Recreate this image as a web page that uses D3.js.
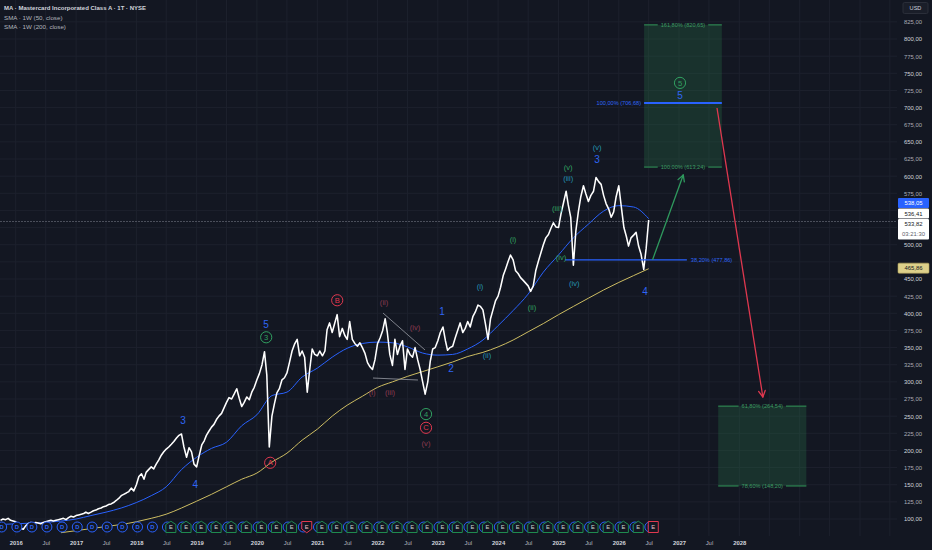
<!DOCTYPE html>
<html><head><meta charset="utf-8">
<script src="https://cdn.jsdelivr.net/npm/d3@7/dist/d3.min.js"></script>
<style>
html,body{margin:0;padding:0;background:#131722;overflow:hidden}
svg{display:block}
text{font-family:"Liberation Sans",Arial,sans-serif}
</style></head><body>
<svg id="chart" width="932" height="550"></svg>
<script>
// ================= DATA =================
const title = "MA · Mastercard Incorporated Class A · 1T · NYSE";
const legendLines = ["SMA · 1W (50, close)", "SMA · 1W (200, close)"];

// Semi-monthly closes (1st and 16th of each month), starting Oct 2015
const closesStart = [2015, 9];
const closes = [
  98,100,99,101,98,97,
  96,91, 86,85, 90,93, 95,94, 95,94, 93,95, 96,97, 98,97, 98,99, 100,101, 99,102, 104,103,
  105,106, 107,108, 110,108, 110,112, 113,115, 116,118, 119,121, 122,124, 127,130, 134,136, 138,140, 145,141,
  150,162, 166,158, 168,172, 176,173, 180,186, 193,198, 202,205, 209,213, 218,222, 224,205, 190,204, 198,180,
  176,192, 208,214, 222,228, 234,238, 245,250, 254,262, 270,277, 275,282, 290,276, 264,270, 278,274, 285,292,
  303,312, 325,344, 310,205, 250,268, 284,290, 303,306, 313,328, 345,355, 362,338, 345,336, 285,318, 348,340,
  338,345, 338,345, 376,386, 372,385, 398,366, 378,368, 362,388, 362,356, 352,357, 350,342, 328,322, 318,332,
  356,364, 375,392, 372,340, 324,362, 340,352, 360,318, 348,340, 336,350, 332,318, 300,282, 300,330, 348,350,
  360,372, 380,360, 346,350, 352,364, 375,386, 372,378, 388,380, 395,402, 412,410, 405,385, 362,392, 405,418,
  425,438, 455,465, 475,485, 478,462, 458,452, 448,444, 440,432, 440,462, 476,488, 500,510, 515,524, 532,526,
  525,545, 562,578, 558,540, 470,520, 548,570, 586,574, 563,572, 578,598, 592,588, 572,560, 552,540, 548,570,
  586,556, 525,512, 498,510, 514,518, 498,486, 464,495, 536
];

// Quarterly SMA readings (first day of Jan/Apr/Jul/Oct)
const sma50Start = [2015, 9];
const sma50 = [92, 93,94,95,97, 100,105,110,116, 124,134,147,172, 190,203,212,236, 252,280,285,307,
  320,336,349,356, 358,357,351,342, 339,340,348,361, 382,404,428,460, 485,510,530,549, 557,555,538];
const sma200Start = [2016, 9];
const sma200 = [80, 83,86,89,92, 96,101,107,116, 126,136,147,158, 167,183,196,215, 231,250,266,279,
  292,300,308,315, 322,329,337,343, 351,361,373,385, 398,410,422,434, 445,455,465];

const priceTicks = d3.range(100, 826, 25);
const yearTicks = d3.range(2016, 2029);
const julTicks = d3.range(2016, 2028);

// Corporate events
const dividendStart = [2015, 9, 8], dividendCount = 44;
const earningsStart = [2018, 6, 29];
const earningsResult = "bbbbbbbbbmbbbbbbbbbbbbbbbbbbbbbbu"; // b = beat, m = miss, u = upcoming

// Elliott wave labels: [decimal year, price, text]
const blueWaves = [[2018.774,243,"3"],[2018.976,150,"4"],[2020.151,383,"5"],[2023.068,403,"1"],[2023.218,319,"2"],
  [2025.640,625,"3"],[2026.436,432,"4"],[2027.016,718,"5"]];
const tealWaves = [[2023.70,440,"(i)"],[2023.816,338,"(ii)"],[2025.161,597,"(iii)"],[2025.261,443,"(iv)"],[2025.642,642,"(v)"]];
const greenWaves = [[2024.247,508,"(i)"],[2024.562,409,"(ii)"],[2024.977,553,"(iii)"],[2025.043,481,"(iv)"],[2025.161,613,"(v)"]];
const maroonWaves = [[2022.108,416,"(ii)"],[2022.622,380,"(iv)"],[2021.909,285,"(i)"],[2022.207,284,"(iii)"],[2022.804,211,"(v)"]];
const greenCircled = [[2020.154,365,"3"],[2022.804,253,"4"],[2027.016,736,"5"]];
const redCircled = [[2020.22,182,"A"],[2021.33,419,"B"],[2022.804,233,"C"]];

const triangleLines = [[[2022.09,400.4],[2022.787,346.5]],[[2021.924,305.6],[2022.67,302.7]]];
const fib382 = {t0:2025.11, t1:2027.13, v:477.86, label:"38,20% (477,86)"};
const fibUpper = {t0:2026.42, t1:2027.71, top:820.65, mid:706.68, bottom:613.24,
  labels:["161,80% (820,65)","100,00% (706,68)","100,00% (613,24)"]};
const fibLower = {t0:2027.65, t1:2029.11, top:264.54, bottom:148.20, labels:["61,80% (264,54)","78,60% (148,20)"]};
const arrowUp = [[2026.56,477.9],[2027.07,601.7]];
const arrowDown = [[2027.63,699.4],[2028.39,277.9]];

const lastPrice = 533.82, countdown = "03:21:30";
const stackedTags = [{v:538.05, kind:"blue"},{v:536.41, kind:"white"}];
const sma200Tag = 465.86;

// ================= CHART =================
const W = 932, H = 550, plotRight = 897, plotBottom = 536;
const C = {bg:"#131722", grid:"#1d212d", text:"#b2b5be", blue:"#2f66f5", teal:"#2592b0",
  green:"#31a061", red:"#e0384f", maroon:"#8c3a50", yellow:"#cdbd62", fib:"#2c7e4e"};

const svg = d3.select("#chart");
svg.append("rect").attr("width",W).attr("height",H).attr("fill",C.bg);

const x = d3.scaleTime().domain([new Date(2016,0,1), new Date(2028,0,1)]).range([15.7, 739.3]);
const y = d3.scaleLinear().domain([100, 825]).range([519, 21.87]);
function dy(t){ const yr=Math.floor(t), s=new Date(yr,0,1), e=new Date(yr+1,0,1); return new Date(+s+(t-yr)*(e-s)); }
const fmt = v => d3.format(".2f")(v).replace(".", ",");

const priceData = closes.map((v,i)=>({date:new Date(closesStart[0], closesStart[1]+Math.floor(i/2), i%2?16:1), v}));
const sma50Data = sma50.map((v,k)=>({date:new Date(sma50Start[0], sma50Start[1]+3*k, 1), v}));
const sma200Data = sma200.map((v,k)=>({date:new Date(sma200Start[0], sma200Start[1]+3*k, 1), v}));

svg.append("defs").append("clipPath").attr("id","plot").append("rect")
  .attr("x",0).attr("y",0).attr("width",plotRight).attr("height",plotBottom);

// grid
const grid = svg.append("g").attr("clip-path","url(#plot)");
grid.selectAll(".hg").data(priceTicks).join("line")
  .attr("x1",0).attr("x2",plotRight).attr("y1",d=>y(d)).attr("y2",d=>y(d))
  .attr("stroke",C.grid).attr("stroke-width",1);
const gridTimes = [];
for (let yr=2015; yr<=2030; yr++){ gridTimes.push(new Date(yr,0,1)); gridTimes.push(new Date(yr,6,1)); }
grid.selectAll(".vg").data(gridTimes).join("line")
  .attr("x1",d=>x(d)).attr("x2",d=>x(d)).attr("y1",0).attr("y2",plotBottom)
  .attr("stroke",C.grid).attr("stroke-width",1);

// tag layout (computed first so covered axis labels can be skipped)
const tagX = 898, tagW = 31;
const priceTop = y(lastPrice) - 2.5;
const tagBoxes = [[priceTop, priceTop+20.5]];
let tagTop = priceTop;
const stackedPos = stackedTags.slice().reverse().map(t=>{ tagTop -= 10.5; tagBoxes.push([tagTop, tagTop+10]); return {t, top:tagTop}; });
tagBoxes.push([y(sma200Tag)-5, y(sma200Tag)+5]);
const covered = v => tagBoxes.some(b => y(v) > b[0]-3 && y(v) < b[1]+3);

// axes
const timeTicks = yearTicks.map(yr=>new Date(yr,0,1)).concat(julTicks.map(yr=>new Date(yr,6,1)));
const xAxis = svg.append("g").attr("transform",`translate(0,${plotBottom+1})`)
  .call(d3.axisBottom(x).tickValues(timeTicks).tickSize(0).tickPadding(4)
    .tickFormat(d=>d.getMonth()===0 ? d.getFullYear() : "Jul"));
xAxis.select(".domain").remove();
xAxis.selectAll("text").attr("fill",d=>d.getMonth()===0?"#d1d4dc":"#b2b5be")
  .attr("font-size",5.9).attr("font-weight",d=>d.getMonth()===0?"bold":"normal");

const yAxis = svg.append("g").attr("transform",`translate(${plotRight},0)`)
  .call(d3.axisRight(y).tickValues(priceTicks.filter(v=>!covered(v))).tickSize(0).tickPadding(7).tickFormat(fmt));
yAxis.select(".domain").remove();
yAxis.selectAll("text").attr("fill",d=>d%50===0?"#d1d4dc":"#a9acb5").attr("font-size",5.9);

const plot = svg.append("g").attr("clip-path","url(#plot)");

// current price line
plot.append("line").attr("x1",0).attr("x2",plotRight).attr("y1",y(lastPrice)).attr("y2",y(lastPrice))
  .attr("stroke","#4c505c").attr("stroke-width",1).attr("stroke-dasharray","2,1");

// moving averages
const lineGen = d3.line().x(d=>x(d.date)).y(d=>y(d.v)).curve(d3.curveMonotoneX);
plot.append("path").datum(sma200Data).attr("d",lineGen)
  .attr("fill","none").attr("stroke",C.yellow).attr("stroke-width",1);
plot.append("path").datum(sma50Data).attr("d",lineGen)
  .attr("fill","none").attr("stroke","#2962ff").attr("stroke-width",1);

// price
plot.append("path").datum(priceData).attr("d",d3.line().x(d=>x(d.date)).y(d=>y(d.v)))
  .attr("fill","none").attr("stroke","#ffffff").attr("stroke-width",1.55).attr("stroke-linejoin","round");

// triangle
triangleLines.forEach(l=>{
  plot.append("line").attr("x1",x(dy(l[0][0]))).attr("y1",y(l[0][1])).attr("x2",x(dy(l[1][0]))).attr("y2",y(l[1][1]))
    .attr("stroke","#8a8d96").attr("stroke-width",0.9);
});

// fib 38.2 line
{
  const x0=x(dy(fib382.t0)), x1=x(dy(fib382.t1)), yy=y(fib382.v);
  plot.append("line").attr("x1",x0).attr("x2",x1).attr("y1",yy).attr("y2",yy).attr("stroke","#2962ff").attr("stroke-width",1.4);
  plot.append("text").attr("x",x1+4).attr("y",yy).attr("dy","0.35em").attr("font-size",5.6)
    .attr("fill","#2f66f5").text(fib382.label);
}

function labelledLine(g, x0, x1, yy, label, color){
  const t = g.append("text").attr("x",(x0+x1)/2).attr("y",yy).attr("dy","0.35em").attr("text-anchor","middle")
    .attr("font-size",5.6).attr("fill",color).text(label);
  const len = t.node().getComputedTextLength();
  const m = (x0+x1)/2;
  g.append("line").attr("x1",x0).attr("x2",m-len/2-3).attr("y1",yy).attr("y2",yy).attr("stroke",C.fib).attr("stroke-width",1.3);
  g.append("line").attr("x1",m+len/2+3).attr("x2",x1).attr("y1",yy).attr("y2",yy).attr("stroke",C.fib).attr("stroke-width",1.3);
}

// upper fib box
{
  const x0=x(dy(fibUpper.t0)), x1=x(dy(fibUpper.t1));
  plot.append("rect").attr("x",x0).attr("y",y(fibUpper.top)).attr("width",x1-x0).attr("height",y(fibUpper.bottom)-y(fibUpper.top))
    .attr("fill","#2c7e4e").attr("fill-opacity",0.26);
  labelledLine(plot, x0, x1, y(fibUpper.top), fibUpper.labels[0], "#3d9c63");
  labelledLine(plot, x0, x1, y(fibUpper.bottom), fibUpper.labels[2], "#3d9c63");
  plot.append("line").attr("x1",x0).attr("x2",x1).attr("y1",y(fibUpper.mid)).attr("y2",y(fibUpper.mid))
    .attr("stroke","#2962ff").attr("stroke-width",1.8);
  plot.append("text").attr("x",x0-3).attr("y",y(fibUpper.mid)).attr("dy","0.35em").attr("text-anchor","end")
    .attr("font-size",5.6).attr("fill","#2f66f5").text(fibUpper.labels[1]);
}
// lower fib box
{
  const x0=x(dy(fibLower.t0)), x1=x(dy(fibLower.t1));
  plot.append("rect").attr("x",x0).attr("y",y(fibLower.top)).attr("width",x1-x0).attr("height",y(fibLower.bottom)-y(fibLower.top))
    .attr("fill","#2c7e4e").attr("fill-opacity",0.26);
  labelledLine(plot, x0, x1, y(fibLower.top), fibLower.labels[0], "#3d9c63");
  labelledLine(plot, x0, x1, y(fibLower.bottom), fibLower.labels[1], "#3d9c63");
}

// arrows
function arrow(g, pts, color){
  const x0=x(dy(pts[0][0])), y0=y(pts[0][1]), x1=x(dy(pts[1][0])), y1=y(pts[1][1]);
  g.append("line").attr("x1",x0).attr("y1",y0).attr("x2",x1).attr("y2",y1).attr("stroke",color).attr("stroke-width",1.3);
  const a=Math.atan2(y1-y0,x1-x0), L=7, s=0.5;
  [a+Math.PI-s, a+Math.PI+s].forEach(b=>{
    g.append("line").attr("x1",x1).attr("y1",y1).attr("x2",x1+L*Math.cos(b)).attr("y2",y1+L*Math.sin(b))
      .attr("stroke",color).attr("stroke-width",1.3).attr("stroke-linecap","round");
  });
}
arrow(plot, arrowUp, "#2f9a5e");
arrow(plot, arrowDown, "#e0384f");

// wave labels
function waveText(arr, color, size, weight){
  plot.selectAll(null).data(arr).join("text")
    .attr("x",d=>x(dy(d[0]))).attr("y",d=>y(d[1])).attr("dy","0.35em").attr("text-anchor","middle")
    .attr("font-size",size).attr("font-weight",weight).attr("fill",color).text(d=>d[2]);
}
waveText(blueWaves, C.blue, 10, "normal");
waveText(tealWaves, C.teal, 7.6, "normal");
waveText(greenWaves, C.green, 7.6, "normal");
waveText(maroonWaves, C.maroon, 7.6, "normal");
function circled(arr, color){
  const g = plot.selectAll(null).data(arr).join("g").attr("transform",d=>`translate(${x(dy(d[0]))},${y(d[1])})`);
  g.append("circle").attr("r",5.6).attr("fill","none").attr("stroke",color).attr("stroke-width",1);
  g.append("text").attr("dy","0.35em").attr("text-anchor","middle").attr("font-size",7.6).attr("fill",color).text(d=>d[2]);
}
circled(greenCircled, C.green);
circled(redCircled, C.red);

// corporate events row
const evY = 527;
const divDates = d3.range(dividendCount).map(k=>new Date(dividendStart[0], dividendStart[1]+3*k, dividendStart[2]));
const divG = plot.selectAll(null).data(divDates).join("g").attr("transform",d=>`translate(${x(d)},${evY})`);
divG.append("circle").attr("r",5).attr("fill",C.bg).attr("stroke","#2962ff").attr("stroke-width",1);
divG.append("text").attr("dy","0.36em").attr("text-anchor","middle").attr("font-size",5.8).attr("font-weight","bold")
  .attr("fill","#2f66f5").text("D");
const earn = earningsResult.split("").map((r,j)=>({date:new Date(earningsStart[0], earningsStart[1]+3*j, earningsStart[2]), r}));
const eG = plot.selectAll(null).data(earn).join("g").attr("transform",d=>`translate(${x(d.date)},${evY})`);
eG.append("path").attr("d",d=>{
  if (d.r==="u") return "M-5,-5.5H5V5.5H-5Z";
  if (d.r==="m") return "M-5,-5.5H5V2L0,5.8L-5,2Z";
  return "M0,-5.8L5,-2.5V5.5H-5V-2.5Z";
}).attr("fill",C.bg).attr("stroke",d=>d.r==="b"?"#1f8a4f":"#e0384f").attr("stroke-width",1);
eG.append("text").attr("dy","0.38em").attr("text-anchor","middle").attr("font-size",5.8)
  .attr("fill",d=>d.r==="b"?"#c9d6cf":"#e8c0c6").text("E");

// legend
svg.append("text").attr("x",4).attr("y",10).attr("font-size",6.0).attr("font-weight","bold").attr("fill","#d1d4dc").text(title);
svg.selectAll(".lg").data(legendLines).join("text").attr("x",4).attr("y",(d,i)=>19.5+i*9.3)
  .attr("font-size",6.2).attr("fill","#b2b5be").text(d=>d);

// USD box
svg.append("rect").attr("x",903).attr("y",2.5).attr("width",25).attr("height",11).attr("rx",1.5)
  .attr("fill","#1a1e29").attr("stroke","#2a2e39");
svg.append("text").attr("x",915.5).attr("y",8).attr("dy","0.35em").attr("text-anchor","middle")
  .attr("font-size",5.6).attr("fill","#d1d4dc").text("USD");

// price tags
svg.append("rect").attr("x",tagX).attr("y",priceTop).attr("width",tagW).attr("height",20.5).attr("rx",1).attr("fill","#ffffff");
svg.append("text").attr("x",tagX+tagW/2).attr("y",priceTop+5.2).attr("dy","0.35em").attr("text-anchor","middle")
  .attr("font-size",5.9).attr("fill","#131722").text(fmt(lastPrice));
svg.append("text").attr("x",tagX+tagW/2).attr("y",priceTop+15).attr("dy","0.35em").attr("text-anchor","middle")
  .attr("font-size",5.9).attr("fill","#5d606b").text(countdown);
stackedPos.forEach(({t, top})=>{
  svg.append("rect").attr("x",tagX).attr("y",top).attr("width",tagW).attr("height",10).attr("rx",1)
    .attr("fill",t.kind==="blue"?"#2962ff":"#ffffff");
  svg.append("text").attr("x",tagX+tagW/2).attr("y",top+5).attr("dy","0.35em").attr("text-anchor","middle")
    .attr("font-size",5.9).attr("fill",t.kind==="blue"?"#ffffff":"#131722").text(fmt(t.v));
});
svg.append("rect").attr("x",tagX).attr("y",y(sma200Tag)-5).attr("width",tagW).attr("height",10).attr("rx",1)
  .attr("fill","#ddd08a").attr("stroke","#b3a55a").attr("stroke-width",0.6);
svg.append("text").attr("x",tagX+tagW/2).attr("y",y(sma200Tag)).attr("dy","0.35em").attr("text-anchor","middle")
  .attr("font-size",5.9).attr("fill","#131722").text(fmt(sma200Tag));
</script>
</body></html>
